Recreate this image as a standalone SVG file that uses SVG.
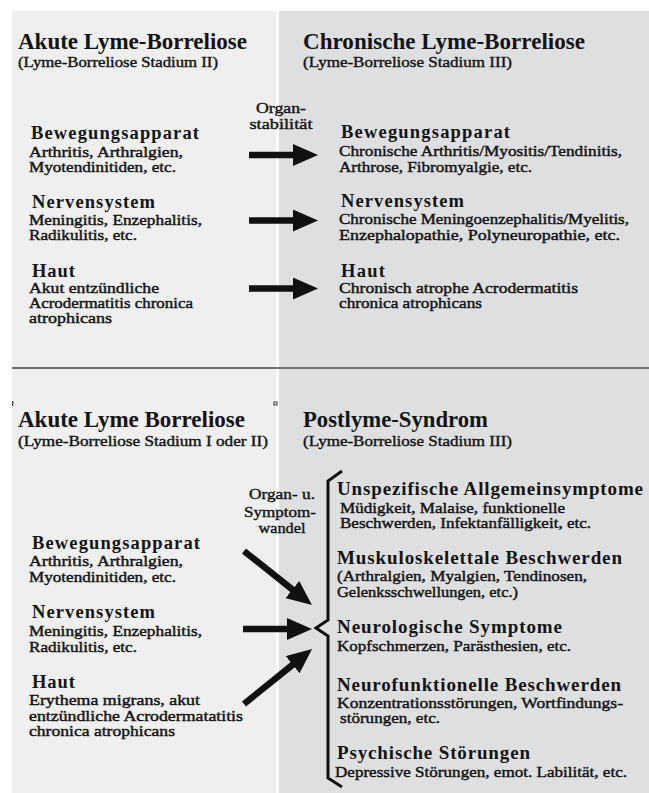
<svg xmlns="http://www.w3.org/2000/svg" width="649" height="793" viewBox="0 0 649 793">
<style>
.t{font-family:"Liberation Serif","Times New Roman",serif;fill:#141414}
.h1{font-size:23px;font-weight:bold}
.sub{font-size:14.5px;stroke:#141414;stroke-width:0.4}
.h2{font-size:18.5px;font-weight:bold}
.h3{font-size:19px;font-weight:bold}
.b{font-size:15.5px;stroke:#141414;stroke-width:0.45}
.lbl{font-size:15px;text-anchor:middle;stroke:#141414;stroke-width:0.4}
.arr{stroke:#111;stroke-width:6.5;fill:none;marker-end:url(#ah)}
.brace{stroke:#111;stroke-width:3;fill:none;stroke-linejoin:miter}
</style>
<defs>
<marker id="ah" markerUnits="userSpaceOnUse" viewBox="0 0 25 22" markerWidth="25" markerHeight="22" refX="5" refY="11" orient="auto">
<path d="M0,0 L25,11 L0,22 Z" fill="#111"/>
</marker>
</defs>
<rect width="649" height="793" fill="#ffffff"/>
<g id="panels">
<rect x="12" y="11" width="264" height="782" fill="#efefef"/>
<rect x="279" y="11" width="370" height="782" fill="#dedfe1"/>
<line x1="12" y1="368" x2="649" y2="368" stroke="#6f6f6f" stroke-width="2.2"/>
<line x1="12.7" y1="401" x2="12.7" y2="406" stroke="#333" stroke-width="1.2"/>
<rect x="274" y="402" width="3" height="3" fill="#fff" stroke="#333" stroke-width="1"/>
</g>

<g id="top-left-title" class="t">
<text class="h1" x="18" y="49" textLength="229" lengthAdjust="spacingAndGlyphs">Akute Lyme-Borreliose</text>
<text class="sub" x="18" y="67" textLength="200" lengthAdjust="spacingAndGlyphs">(Lyme-Borreliose Stadium II)</text>
</g>
<g id="top-left-bewegung" class="t">
<text class="h2" x="31" y="139" textLength="168" lengthAdjust="spacing">Bewegungsapparat</text>
<text class="b" x="29" y="157" textLength="154" lengthAdjust="spacingAndGlyphs">Arthritis, Arthralgien,</text>
<text class="b" x="29" y="172" textLength="147" lengthAdjust="spacingAndGlyphs">Myotendinitiden, etc.</text>
</g>
<g id="top-left-nerven" class="t">
<text class="h2" x="32" y="208" textLength="123" lengthAdjust="spacing">Nervensystem</text>
<text class="b" x="29" y="225" textLength="173" lengthAdjust="spacingAndGlyphs">Meningitis, Enzephalitis,</text>
<text class="b" x="29" y="240" textLength="108" lengthAdjust="spacingAndGlyphs">Radikulitis, etc.</text>
</g>
<g id="top-left-haut" class="t">
<text class="h2" x="32" y="277" textLength="43" lengthAdjust="spacing">Haut</text>
<text class="b" x="29" y="293" textLength="130" lengthAdjust="spacingAndGlyphs">Akut entzündliche</text>
<text class="b" x="29" y="308" textLength="164" lengthAdjust="spacingAndGlyphs">Acrodermatitis chronica</text>
<text class="b" x="29" y="323" textLength="83" lengthAdjust="spacingAndGlyphs">atrophicans</text>
</g>
<g id="label-organstabilitaet" class="t">
<text class="lbl" x="281" y="113" textLength="50" lengthAdjust="spacingAndGlyphs">Organ-</text>
<text class="lbl" x="281" y="129" textLength="63" lengthAdjust="spacingAndGlyphs">stabilität</text>
</g>

<g id="top-right-title" class="t">
<text class="h1" x="303" y="49" textLength="282" lengthAdjust="spacingAndGlyphs">Chronische Lyme-Borreliose</text>
<text class="sub" x="303" y="67" textLength="209" lengthAdjust="spacingAndGlyphs">(Lyme-Borreliose Stadium III)</text>
</g>
<g id="top-right-bewegung" class="t">
<text class="h2" x="341" y="138" textLength="169" lengthAdjust="spacing">Bewegungsapparat</text>
<text class="b" x="339" y="156" textLength="283" lengthAdjust="spacingAndGlyphs">Chronische Arthritis/Myositis/Tendinitis,</text>
<text class="b" x="339" y="172" textLength="193" lengthAdjust="spacingAndGlyphs">Arthrose, Fibromyalgie, etc.</text>
</g>
<g id="top-right-nerven" class="t">
<text class="h2" x="341" y="207" textLength="123" lengthAdjust="spacing">Nervensystem</text>
<text class="b" x="339" y="224" textLength="290" lengthAdjust="spacingAndGlyphs">Chronische Meningoenzephalitis/Myelitis,</text>
<text class="b" x="339" y="240" textLength="281" lengthAdjust="spacingAndGlyphs">Enzephalopathie, Polyneuropathie, etc.</text>
</g>
<g id="top-right-haut" class="t">
<text class="h2" x="341" y="277" textLength="44" lengthAdjust="spacing">Haut</text>
<text class="b" x="339" y="293" textLength="239" lengthAdjust="spacingAndGlyphs">Chronisch atrophe Acrodermatitis</text>
<text class="b" x="339" y="308" textLength="143" lengthAdjust="spacingAndGlyphs">chronica atrophicans</text>
</g>

<g id="bottom-left-title" class="t">
<text class="h1" x="18" y="427" textLength="227" lengthAdjust="spacingAndGlyphs">Akute Lyme Borreliose</text>
<text class="sub" x="18" y="446" textLength="250" lengthAdjust="spacingAndGlyphs">(Lyme-Borreliose Stadium I oder II)</text>
</g>
<g id="bottom-left-bewegung" class="t">
<text class="h2" x="32" y="549" textLength="168" lengthAdjust="spacing">Bewegungsapparat</text>
<text class="b" x="29" y="566" textLength="154" lengthAdjust="spacingAndGlyphs">Arthritis, Arthralgien,</text>
<text class="b" x="29" y="582" textLength="147" lengthAdjust="spacingAndGlyphs">Myotendinitiden, etc.</text>
</g>
<g id="bottom-left-nerven" class="t">
<text class="h2" x="32" y="618" textLength="123" lengthAdjust="spacing">Nervensystem</text>
<text class="b" x="29" y="636" textLength="173" lengthAdjust="spacingAndGlyphs">Meningitis, Enzephalitis,</text>
<text class="b" x="29" y="652" textLength="108" lengthAdjust="spacingAndGlyphs">Radikulitis, etc.</text>
</g>
<g id="bottom-left-haut" class="t">
<text class="h2" x="32" y="688" textLength="43" lengthAdjust="spacing">Haut</text>
<text class="b" x="29" y="705" textLength="171" lengthAdjust="spacingAndGlyphs">Erythema migrans, akut</text>
<text class="b" x="29" y="721" textLength="214" lengthAdjust="spacingAndGlyphs">entzündliche Acrodermatatitis</text>
<text class="b" x="29" y="736" textLength="146" lengthAdjust="spacingAndGlyphs">chronica atrophicans</text>
</g>
<g id="label-symptomwandel" class="t">
<text class="lbl" x="282" y="499" textLength="66" lengthAdjust="spacingAndGlyphs">Organ- u.</text>
<text class="lbl" x="280" y="517" textLength="72" lengthAdjust="spacingAndGlyphs">Symptom-</text>
<text class="lbl" x="282" y="533" textLength="47" lengthAdjust="spacingAndGlyphs">wandel</text>
</g>

<g id="bottom-right-title" class="t">
<text class="h1" x="303" y="427" textLength="185" lengthAdjust="spacingAndGlyphs">Postlyme-Syndrom</text>
<text class="sub" x="303" y="446" textLength="209" lengthAdjust="spacingAndGlyphs">(Lyme-Borreliose Stadium III)</text>
</g>
<g id="bottom-right-unspez" class="t">
<text class="h3" x="337" y="495" textLength="306" lengthAdjust="spacing">Unspezifische Allgemeinsymptome</text>
<text class="b" x="340" y="513" textLength="225" lengthAdjust="spacingAndGlyphs">Müdigkeit, Malaise, funktionelle</text>
<text class="b" x="340" y="528" textLength="251" lengthAdjust="spacingAndGlyphs">Beschwerden, Infektanfälligkeit, etc.</text>
</g>
<g id="bottom-right-muskulo" class="t">
<text class="h3" x="337" y="564" textLength="285" lengthAdjust="spacing">Muskuloskelettale Beschwerden</text>
<text class="b" x="337" y="581" textLength="250" lengthAdjust="spacingAndGlyphs">(Arthralgien, Myalgien, Tendinosen,</text>
<text class="b" x="337" y="597" textLength="181" lengthAdjust="spacingAndGlyphs">Gelenksschwellungen, etc.)</text>
</g>
<g id="bottom-right-neuro" class="t">
<text class="h3" x="337" y="633" textLength="225" lengthAdjust="spacing">Neurologische Symptome</text>
<text class="b" x="337" y="651" textLength="234" lengthAdjust="spacingAndGlyphs">Kopfschmerzen, Parästhesien, etc.</text>
</g>
<g id="bottom-right-neurofunk" class="t">
<text class="h3" x="337" y="691" textLength="284" lengthAdjust="spacing">Neurofunktionelle Beschwerden</text>
<text class="b" x="337" y="708" textLength="286" lengthAdjust="spacingAndGlyphs">Konzentrationsstörungen, Wortfindungs-</text>
<text class="b" x="340" y="723" textLength="100" lengthAdjust="spacingAndGlyphs">störungen, etc.</text>
</g>
<g id="bottom-right-psych" class="t">
<text class="h3" x="337" y="759" textLength="193" lengthAdjust="spacing">Psychische Störungen</text>
<text class="b" x="335" y="777" textLength="292" lengthAdjust="spacingAndGlyphs">Depressive Störungen, emot. Labilität, etc.</text>
</g>

<g id="connectors">
<line class="arr" x1="249" y1="155" x2="298" y2="155"/>
<line class="arr" x1="249" y1="220.5" x2="298" y2="220.5"/>
<line class="arr" x1="249" y1="288.5" x2="298" y2="288.5"/>
<line class="arr" x1="244" y1="551" x2="296.3" y2="592.6"/>
<line class="arr" x1="243" y1="629" x2="292" y2="629"/>
<line class="arr" x1="244" y1="704" x2="296.5" y2="661.6"/>
<path class="brace" d="M342,471 L328,481 L328,620 L316,628 L328,636 L328,778 L342,787"/>
</g>
</svg>
